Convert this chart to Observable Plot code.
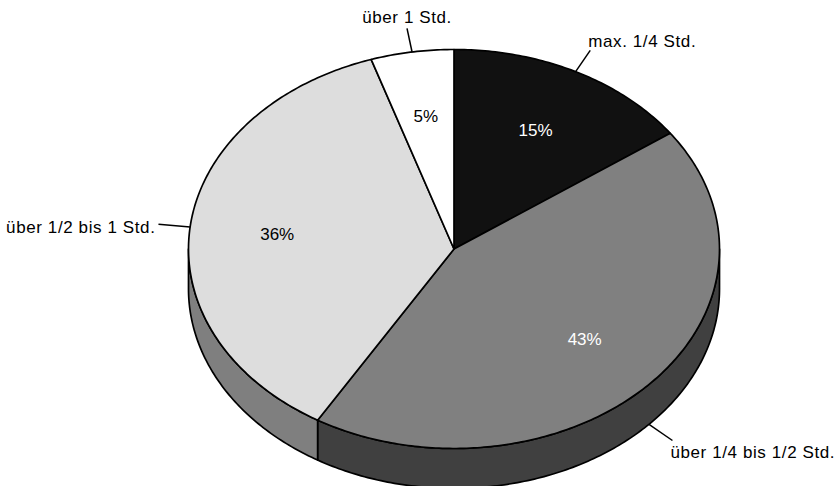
<!DOCTYPE html>
<html>
<head>
<meta charset="utf-8">
<script src="https://cdn.jsdelivr.net/npm/d3@7"></script>
<script src="https://cdn.jsdelivr.net/npm/@observablehq/plot@0.6"></script>
<style>
  html, body { margin: 0; padding: 0; background: #ffffff; }
  #chart .outer text { letter-spacing: 0.6px; }
</style>
</head>
<body>
<div id="chart"></div>
<script>
// Daily time spent, share of respondents (3-D pie)
const categories = ["max. 1/4 Std.", "über 1/4 bis 1/2 Std.", "über 1/2 bis 1 Std.", "über 1 Std."];
const shares = [15, 43, 36, 5];
const topColors = ["#111111", "#808080", "#dddddd", "#ffffff"];
const sideColors = ["#080808", "#404040", "#7f7f7f", "#bfbfbf"];
const valueColors = ["#ffffff", "#ffffff", "#000000", "#000000"];

const depth = 0.2;        // disc thickness, in y units of the unit ellipse
const valueRadius = 0.67; // where the percentages sit inside each slice
const leaderRadius = 1.12;

const total = d3.sum(shares);
let acc = 0;
const slices = shares.map((v, i) => {
  const a0 = acc / total * 2 * Math.PI;
  acc += v;
  const a1 = acc / total * 2 * Math.PI;
  return {i, label: categories[i], value: v, a0, a1, mid: (a0 + a1) / 2};
});

// points along the rim, angle measured clockwise from 12 o'clock
function rim(a0, a1, r = 1, drop = 0) {
  const n = Math.max(2, Math.ceil((a1 - a0) / (Math.PI / 240)));
  return d3.range(n + 1).map(k => {
    const a = a0 + (a1 - a0) * k / n;
    return {x: r * Math.sin(a), y: r * Math.cos(a) - drop};
  });
}

const lineStyle = {x: "x", y: "y", stroke: "#000", strokeWidth: 1.7, strokeLinejoin: "round"};

// visible front walls (lower half of the disc)
const walls = slices.flatMap(s => {
  const s0 = Math.max(s.a0, Math.PI / 2), s1 = Math.min(s.a1, 3 * Math.PI / 2);
  if (s0 >= s1) return [];
  const pts = [...rim(s0, s1), ...rim(s0, s1, 1, depth).reverse()];
  pts.push(pts[0]);
  return [Plot.line(pts, {...lineStyle, fill: sideColors[s.i]})];
});

// top faces
const faces = slices.map(s => {
  const pts = [{x: 0, y: 0}, ...rim(s.a0, s.a1), {x: 0, y: 0}];
  return Plot.line(pts, {...lineStyle, fill: topColors[s.i]});
});

// leader lines from the rim to the category labels
const leaders = slices.map(s => {
  const front = Math.cos(s.mid) < 0 ? depth : 0;
  return {
    x1: Math.sin(s.mid), y1: Math.cos(s.mid) - front,
    x2: leaderRadius * Math.sin(s.mid), y2: leaderRadius * Math.cos(s.mid) - front,
    label: s.label, sin: Math.sin(s.mid), cos: Math.cos(s.mid)
  };
});

const categoryLabels = leaders.map(l => {
  const centred = Math.abs(l.sin) < 0.3;
  const anchor = centred ? "middle" : (l.sin > 0 ? "start" : "end");
  const dy = centred ? -11 : (l.cos > 0.3 ? -9 : (l.cos < -0.3 ? 12 : 3));
  const dx = centred ? 0 : (l.sin > 0 ? -2 : -3);
  return Plot.text([l], {x: "x2", y: "y2", text: "label", textAnchor: anchor, dx, dy,
    fill: "#000", fontSize: 17, className: "outer"});
});

const valueLabels = Plot.text(slices, {
  x: s => valueRadius * Math.sin(s.mid),
  y: s => valueRadius * Math.cos(s.mid),
  text: s => `${s.value}%`,
  fill: s => valueColors[s.i],
  fontSize: 17
});

const chart = Plot.plot({
  width: 838,
  height: 486,
  margin: 0,
  x: {domain: [-1, 1], range: [188, 719], axis: null},
  y: {domain: [-1, 1], range: [448, 49], axis: null},
  color: {type: "identity"},
  style: {fontFamily: "'Liberation Sans', Arial, sans-serif", background: "#ffffff", overflow: "visible"},
  marks: [
    ...walls,
    ...faces,
    Plot.link(leaders, {x1: "x1", y1: "y1", x2: "x2", y2: "y2", stroke: "#000", strokeWidth: 1.5}),
    valueLabels,
    ...categoryLabels
  ]
});
document.getElementById("chart").appendChild(chart);
</script>
</body>
</html>
